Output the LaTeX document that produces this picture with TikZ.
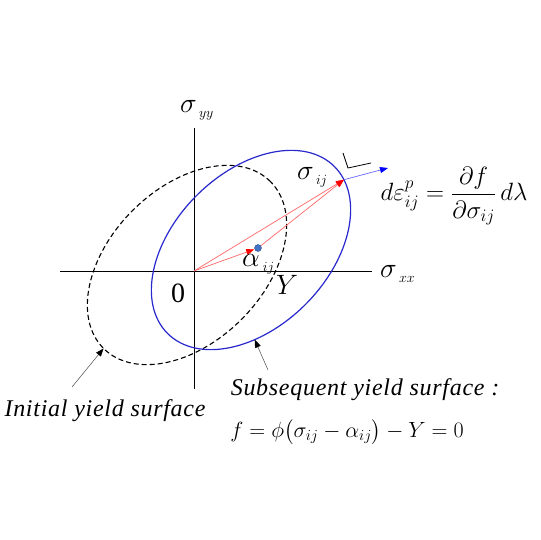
\RequirePackage{fix-cm}
\documentclass[tikz,border=0pt]{standalone}
\usepackage{amsmath}
\usepackage{fontspec}
\setmainfont{Liberation Serif}
\newfontfamily\lblfamily[LetterSpace=3]{Liberation Serif}
\usepackage{tikz}
\usetikzlibrary{arrows.meta}
\definecolor{surfblue}{RGB}{40,40,205}
\definecolor{dotblue}{RGB}{68,114,196}
\newcommand{\symfont}{\fontsize{28}{32}\selectfont}
\newcommand{\lblfont}{\fontsize{24}{28}\selectfont\lblfamily\itshape}

\begin{document}
\begin{tikzpicture}[x=1pt,y=1pt,
  axis/.style={line width=0.8pt},
  initsurf/.style={line width=1.1pt, dash pattern=on 5pt off 3pt},
  subsurf/.style={draw=surfblue, line width=1.2pt},
  redvec/.style={draw=red!60, line width=0.7pt, -{Triangle[length=8pt,width=6pt,red]}},
  normvec/.style={draw=blue!60, line width=0.7pt, -{Triangle[length=8pt,width=6pt,blue]}},
  pointer/.style={draw=black!70, line width=0.5pt, -{Triangle[length=8pt,width=6pt,black]}},
  sym/.style={inner sep=0pt, font=\symfont},
  lbl/.style={inner sep=0pt, font=\lblfont}]
\useasboundingbox (-194,-269) rectangle (346,271);
% axes
\coordinate (O) at (0,0);
\coordinate (xl) at (-134,0);
\coordinate (xr) at (178,0);
\coordinate (yb) at (0,-118);
\coordinate (yt) at (0,143);
\draw[axis] (xl) -- (xr);
\draw[axis] (yb) -- (yt);
\node[sym, anchor=base west] (syy) at (-14,158) {$\sigma_{\,\scriptscriptstyle yy}$};
\node[sym, anchor=base west] (sxx) at (186,-7) {$\sigma_{\,\scriptscriptstyle xx}$};
\node[sym] (zero) at (-16,-22) {0};
\node[sym] (yld) at (93,-14) {$Y$};
% initial yield surface
\begin{scope}[shift={(-7,6)}, rotate=45]
  \draw[initsurf] (0,0) ellipse [x radius=118, y radius=77];
  \coordinate (P) at (180:118 and 77);
\end{scope}
% subsequent yield surface
\begin{scope}[shift={(57,21)}, rotate=45]
  \draw[subsurf] (0,0) ellipse [x radius=118, y radius=77];
  \coordinate (S) at (-12:118 and 77);
  \coordinate (Q) at (239:118 and 77);
\end{scope}
% back stress and stress vectors
\coordinate (A) at (64,23);
\draw[redvec, shorten >=4pt] (O) -- (A);
\draw[redvec] (O) -- (S);
\draw[redvec] (A) -- (S);
\draw[draw=dotblue!70!black, fill=dotblue, line width=0.4pt] (A) circle (3.5);
\node[sym, anchor=base west] (alf) at (48,4) {$\alpha_{\,\scriptscriptstyle ij}$};
\node[sym, anchor=base west] (sij) at (103,91) {$\sigma_{\,\scriptscriptstyle ij}$};
% normal
\coordinate (N) at (194,103);
\draw[normvec] (S) -- (N);
\draw[line width=0.8pt] (149,118) -- (154,103) -- (177,108);
\node[inner sep=0pt, font=\fontsize{25}{30}\selectfont] (flow) at (260,75)
  {$d\varepsilon_{ij}^{p}=\dfrac{\partial f}{\partial\sigma_{ij}}\,d\lambda$};
% labels
\node[lbl] (init) at (-89,-140) {Initial yield surface};
\node[lbl] (subs) at (171,-119) {Subsequent yield surface :};
\node[inner sep=0pt, font=\fontsize{22}{28}\selectfont] (fdef) at (153,-161)
  {$f=\phi\bigl(\sigma_{ij}-\alpha_{ij}\bigr)-Y=0$};
\coordinate (ia) at (-122,-116);
\coordinate (sa) at (74,-99);
\draw[pointer] (ia) -- (P);
\draw[pointer] (sa) -- (Q);
\end{tikzpicture}
\end{document}
